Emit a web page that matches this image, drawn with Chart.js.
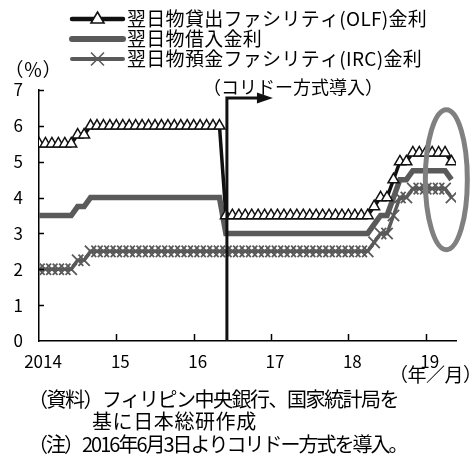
<!DOCTYPE html>
<html lang="ja">
<head>
<meta charset="utf-8">
<title>フィリピンの政策金利</title>
<script src="https://cdn.jsdelivr.net/npm/chart.js@4.4.1/dist/chart.umd.min.js"></script>
<style>
  html, body { margin: 0; padding: 0; background: #fff; }
  #wrap { position: relative; width: 472px; height: 454px; overflow: hidden; }
  canvas { display: block; }
</style>
</head>
<body>
<div id="wrap"><canvas id="chart" width="472" height="454"></canvas></div>
<script>
// Month-end observations, 2014/01 – 2019/05
const months = [
  '2014/01','2014/02','2014/03','2014/04','2014/05','2014/06','2014/07','2014/08','2014/09','2014/10','2014/11','2014/12',
  '2015/01','2015/02','2015/03','2015/04','2015/05','2015/06','2015/07','2015/08','2015/09','2015/10','2015/11','2015/12',
  '2016/01','2016/02','2016/03','2016/04','2016/05','2016/06','2016/07','2016/08','2016/09','2016/10','2016/11','2016/12',
  '2017/01','2017/02','2017/03','2017/04','2017/05','2017/06','2017/07','2017/08','2017/09','2017/10','2017/11','2017/12',
  '2018/01','2018/02','2018/03','2018/04','2018/05','2018/06','2018/07','2018/08','2018/09','2018/10','2018/11','2018/12',
  '2019/01','2019/02','2019/03','2019/04','2019/05'
];

// 翌日物貸出ファシリティ(OLF)金利 (%)
const olfRate = [
  5.5, 5.5, 5.5, 5.5, 5.5, 5.5, 5.75, 5.75, 6, 6, 6, 6,
  6, 6, 6, 6, 6, 6, 6, 6, 6, 6, 6, 6,
  6, 6, 6, 6, 6, 3.5, 3.5, 3.5, 3.5, 3.5, 3.5, 3.5,
  3.5, 3.5, 3.5, 3.5, 3.5, 3.5, 3.5, 3.5, 3.5, 3.5, 3.5, 3.5,
  3.5, 3.5, 3.5, 3.5, 3.75, 4, 4, 4.5, 5, 5, 5.25, 5.25,
  5.25, 5.25, 5.25, 5.25, 5
];

// 翌日物借入金利 (%)
const borrowingRate = [
  3.5, 3.5, 3.5, 3.5, 3.5, 3.5, 3.75, 3.75, 4, 4, 4, 4,
  4, 4, 4, 4, 4, 4, 4, 4, 4, 4, 4, 4,
  4, 4, 4, 4, 4, 3, 3, 3, 3, 3, 3, 3,
  3, 3, 3, 3, 3, 3, 3, 3, 3, 3, 3, 3,
  3, 3, 3, 3, 3.25, 3.5, 3.5, 4, 4.5, 4.5, 4.75, 4.75,
  4.75, 4.75, 4.75, 4.75, 4.5
];

// 翌日物預金ファシリティ(IRC)金利 (%)
const ircRate = [
  2, 2, 2, 2, 2, 2, 2.25, 2.25, 2.5, 2.5, 2.5, 2.5,
  2.5, 2.5, 2.5, 2.5, 2.5, 2.5, 2.5, 2.5, 2.5, 2.5, 2.5, 2.5,
  2.5, 2.5, 2.5, 2.5, 2.5, 2.5, 2.5, 2.5, 2.5, 2.5, 2.5, 2.5,
  2.5, 2.5, 2.5, 2.5, 2.5, 2.5, 2.5, 2.5, 2.5, 2.5, 2.5, 2.5,
  2.5, 2.5, 2.5, 2.5, 2.75, 3, 3, 3.5, 4, 4, 4.25, 4.25,
  4.25, 4.25, 4.25, 4.25, 4
];

const seriesNames = [
  '翌日物貸出ファシリティ(OLF)金利',
  '翌日物借入金利',
  '翌日物預金ファシリティ(IRC)金利'
];

const xTickMonths = ['2014/01', '2015/01', '2016/01', '2017/01', '2018/01', '2019/01'];
const xTickLabels = ['2014', '15', '16', '17', '18', '19'];
const yTickValues = [0, 1, 2, 3, 4, 5, 6, 7];

const corridorMonth = '2016/06';
const corridorLabel = '（コリドー方式導入）';
const notes = [
  '（資料）フィリピン中央銀行、国家統計局を',
  '基に日本総研作成',
  '（注）2016年6月3日よりコリドー方式を導入。'
];

const FONT = "'Noto Sans CJK JP', 'Noto Sans', sans-serif";
const INK = '#111111';
const GREY = '#5a5a5a';

const toPoints = arr => arr.map((v, i) => ({ x: i, y: v }));

function text(ctx, str, x, y, spacing) {
  if ('letterSpacing' in ctx) ctx.letterSpacing = spacing + 'px';
  ctx.fillText(str, x, y);
  if ('letterSpacing' in ctx) ctx.letterSpacing = '0px';
}

// Legend, axis captions, notes, corridor marker and highlight ring
const decor = {
  id: 'decor',
  afterDatasetsDraw(chart) {
    const { ctx, chartArea: a, scales: { x, y } } = chart;
    ctx.save();

    // inward tick marks
    ctx.strokeStyle = '#000';
    ctx.lineWidth = 1.5;
    yTickValues.forEach(v => {
      if (v === 0) return;
      const py = Math.round(y.getPixelForValue(v)) + 0.5;
      ctx.beginPath(); ctx.moveTo(a.left, py); ctx.lineTo(a.left + 5, py); ctx.stroke();
    });
    xTickMonths.forEach(m => {
      const i = months.indexOf(m);
      if (i === 0) return;
      const px = Math.round(x.getPixelForValue(i)) + 0.5;
      ctx.beginPath(); ctx.moveTo(px, a.bottom); ctx.lineTo(px, a.bottom - 7); ctx.stroke();
    });

    // corridor introduction marker with arrow
    const cx = x.getPixelForValue(months.indexOf(corridorMonth)) + 1;
    const topY = y.getPixelForValue(6.78);
    ctx.strokeStyle = INK;
    ctx.fillStyle = INK;
    ctx.lineWidth = 3;
    ctx.lineJoin = 'miter';
    ctx.beginPath();
    ctx.moveTo(cx, y.getPixelForValue(0));
    ctx.lineTo(cx, topY);
    ctx.lineTo(cx + 32, topY);
    ctx.stroke();
    ctx.beginPath();
    ctx.moveTo(cx + 30, topY - 5.5);
    ctx.lineTo(cx + 46, topY);
    ctx.lineTo(cx + 30, topY + 5.5);
    ctx.closePath();
    ctx.fill();

    // highlight ring around the latest months
    ctx.strokeStyle = '#808080';
    ctx.lineWidth = 5;
    ctx.beginPath();
    ctx.ellipse(x.getPixelForValue(63.2), y.getPixelForValue(4.5), 21, 70, 0, 0, Math.PI * 2);
    ctx.stroke();
    ctx.restore();
  },
  afterDraw(chart) {
    const { ctx, chartArea: a, scales: { x } } = chart;
    ctx.save();
    ctx.fillStyle = '#000';
    ctx.textBaseline = 'middle';

    // year labels under the x axis
    ctx.font = `17px ${FONT}`;
    ctx.textAlign = 'center';
    xTickMonths.forEach((m, k) => {
      ctx.fillText(xTickLabels[k], x.getPixelForValue(months.indexOf(m)) + 4, a.bottom + 21);
    });

    // legend
    const rows = [19, 39, 59];
    const lx0 = 72, lx1 = 123, lmid = 97.5;
    ctx.lineCap = 'round';
    // OLF
    ctx.strokeStyle = INK; ctx.lineWidth = 4.5;
    ctx.beginPath(); ctx.moveTo(lx0, rows[0]); ctx.lineTo(lx1, rows[0]); ctx.stroke();
    ctx.lineWidth = 1.6; ctx.fillStyle = '#fff';
    ctx.beginPath();
    ctx.moveTo(lmid, rows[0] - 7);
    ctx.lineTo(lmid + 6.5, rows[0] + 4);
    ctx.lineTo(lmid - 6.5, rows[0] + 4);
    ctx.closePath(); ctx.fill(); ctx.stroke();
    // borrowing
    ctx.strokeStyle = GREY; ctx.lineWidth = 6;
    ctx.beginPath(); ctx.moveTo(lx0, rows[1]); ctx.lineTo(lx1, rows[1]); ctx.stroke();
    // IRC
    ctx.lineWidth = 4;
    ctx.beginPath(); ctx.moveTo(lx0, rows[2]); ctx.lineTo(lx1, rows[2]); ctx.stroke();
    ctx.lineWidth = 1.6; ctx.lineCap = 'butt';
    ctx.beginPath();
    ctx.moveTo(lmid - 6.5, rows[2] - 6.5); ctx.lineTo(lmid + 6.5, rows[2] + 6.5);
    ctx.moveTo(lmid + 6.5, rows[2] - 6.5); ctx.lineTo(lmid - 6.5, rows[2] + 6.5);
    ctx.stroke();

    ctx.fillStyle = '#000';
    ctx.font = `19px ${FONT}`;
    ctx.textAlign = 'left';
    seriesNames.forEach((t, i) => text(ctx, t, 127, rows[i], 0.3));

    // axis captions
    ctx.font = `19px ${FONT}`;
    ctx.textAlign = 'center';
    ctx.fillText('（％）', 33, 70);
    ctx.textAlign = 'left';
    text(ctx, '（年／月）', 389, 375, -0.5);

    // corridor label
    ctx.font = `18px ${FONT}`;
    ctx.textAlign = 'center';
    ctx.fillText(corridorLabel, 293, 87);

    // source and notes
    ctx.font = `20px ${FONT}`;
    ctx.textAlign = 'left';
    text(ctx, notes[0], 28, 399, -1.5);
    text(ctx, notes[1], 92, 421, 0.6);
    text(ctx, notes[2], 28, 444, -2);
    ctx.restore();
  }
};

Chart.defaults.font.family = FONT;
Chart.defaults.color = '#000';

new Chart(document.getElementById('chart'), {
  type: 'line',
  data: {
    datasets: [
      {
        label: seriesNames[0],
        data: toPoints(olfRate),
        borderColor: INK,
        borderWidth: 3.5,
        pointStyle: 'triangle',
        pointRadius: 6.3,
        pointBackgroundColor: '#fff',
        pointBorderColor: INK,
        pointBorderWidth: 1.5,
        tension: 0
      },
      {
        label: seriesNames[1],
        data: toPoints(borrowingRate),
        borderColor: GREY,
        borderWidth: 5.5,
        pointRadius: 0,
        tension: 0
      },
      {
        label: seriesNames[2],
        data: toPoints(ircRate),
        borderColor: GREY,
        borderWidth: 3.5,
        pointStyle: 'crossRot',
        pointRadius: 8,
        pointBorderColor: GREY,
        pointBorderWidth: 1.8,
        tension: 0
      }
    ]
  },
  options: {
    responsive: false,
    animation: false,
    devicePixelRatio: 1,
    layout: { padding: { top: 90, right: 16, left: 0, bottom: 0 } },
    plugins: { legend: { display: false }, tooltip: { enabled: false } },
    scales: {
      x: {
        type: 'linear',
        min: 0,
        max: 64.7,
        afterFit(s) { s.height = 113; },
        afterBuildTicks(s) { s.ticks = xTickMonths.map(m => ({ value: months.indexOf(m) })); },
        ticks: { display: false },
        grid: { display: true, drawOnChartArea: false, drawTicks: false },
        border: { color: '#000', width: 1.5 }
      },
      y: {
        min: 0,
        max: 7,
        afterFit(s) { s.width = 39; },
        afterBuildTicks(s) { s.ticks = yTickValues.map(v => ({ value: v })); },
        ticks: { padding: 16, font: { size: 17 } },
        grid: { display: true, drawOnChartArea: false, drawTicks: false },
        border: { color: '#000', width: 1.5 }
      }
    }
  },
  plugins: [decor]
});
</script>
</body>
</html>
